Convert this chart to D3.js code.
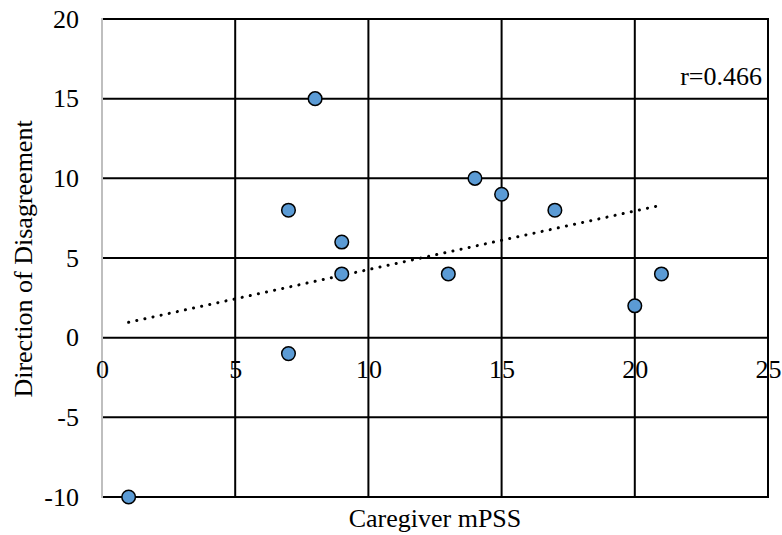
<!DOCTYPE html>
<html>
<head>
<meta charset="utf-8">
<script src="https://cdn.jsdelivr.net/npm/d3@7"></script>
<style>
  html, body { margin: 0; padding: 0; background: #fff; }
  svg text { font-family: "Liberation Serif", "Times New Roman", "DejaVu Serif", serif !important; fill: #000; }
</style>
</head>
<body>
<svg id="chart" width="782" height="535"></svg>
<script>
// Data
const mpss = [1, 7, 8, 9, 9, 7, 13, 14, 15, 17, 20, 21];
const disagreement = [-10, 8, 15, 6, 4, -1, 4, 10, 9, 8, 2, 4];
const xTicks = [0, 5, 10, 15, 20, 25];
const yTicks = [-10, -5, 0, 5, 10, 15, 20];
const xTitle = "Caregiver mPSS";
const yTitle = "Direction of Disagreement";
const rLabel = "r=0.466";

(function () {
const FS = 26;
const svg = d3.select("#chart");
const pL = 102, pR = 768, pT = 19, pB = 497;
const x = d3.scaleLinear().domain([0, 25]).range([pL, pR]);
const y = d3.scaleLinear().domain([-10, 20]).range([pB, pT]);

// Gridlines
const g = svg.append("g");
g.selectAll("line.h").data(yTicks).enter().append("line")
  .attr("x1", pL).attr("x2", pR)
  .attr("y1", d => y(d)).attr("y2", d => y(d))
  .attr("stroke", "#000").attr("stroke-width", 2);
g.selectAll("line.v").data(xTicks).enter().append("line")
  .attr("y1", pT - 1).attr("y2", pB + 1)
  .attr("x1", d => x(d)).attr("x2", d => x(d))
  .attr("stroke", d => d === 0 ? "#bfbfbf" : "#000").attr("stroke-width", 2);

// Axes labels (via d3 axes, no tick lines)
const xAxis = svg.append("g").attr("transform", `translate(0,${y(0)})`)
  .call(d3.axisBottom(x).tickValues(xTicks).tickSize(0).tickPadding(22).tickFormat(d => String(d)));
xAxis.attr("font-family", null).attr("font-size", FS);
xAxis.select(".domain").remove();

const yAxis = svg.append("g").attr("transform", `translate(${pL},0)`)
  .call(d3.axisLeft(y).tickValues(yTicks).tickSize(0).tickPadding(23).tickFormat(d => String(d)));
yAxis.attr("font-family", null).attr("font-size", FS);
yAxis.select(".domain").remove();

// Trendline (least squares fit over data range)
const n = mpss.length;
const mx = d3.mean(mpss), my = d3.mean(disagreement);
let sxy = 0, sxx = 0;
for (let i = 0; i < n; i++) { sxy += (mpss[i]-mx)*(disagreement[i]-my); sxx += (mpss[i]-mx)**2; }
const slope = sxy / sxx, icpt = my - slope * mx;
const x0 = d3.min(mpss), x1 = d3.max(mpss);
svg.append("line")
  .attr("x1", x(x0)).attr("y1", y(icpt + slope*x0))
  .attr("x2", x(x1)).attr("y2", y(icpt + slope*x1))
  .attr("stroke", "#000").attr("stroke-width", 3)
  .attr("stroke-linecap", "round").attr("stroke-dasharray", "0.1,8.2");

// Points
svg.selectAll("circle").data(mpss.map((v, i) => [v, disagreement[i]])).enter().append("circle")
  .attr("cx", d => x(d[0])).attr("cy", d => y(d[1])).attr("r", 6.8)
  .attr("fill", "#5b9bd5").attr("stroke", "#000").attr("stroke-width", 1.5);

// r label
svg.append("text").attr("x", 762).attr("y", 85).attr("text-anchor", "end")
  .attr("font-size", FS).text(rLabel);

// Titles
svg.append("text").attr("x", 435).attr("y", 527).attr("text-anchor", "middle")
  .attr("font-size", FS).text(xTitle);
svg.append("text").attr("transform", `translate(32,259) rotate(-90)`)
  .attr("text-anchor", "middle").attr("font-size", FS).text(yTitle);
})();
</script>
</body>
</html>
